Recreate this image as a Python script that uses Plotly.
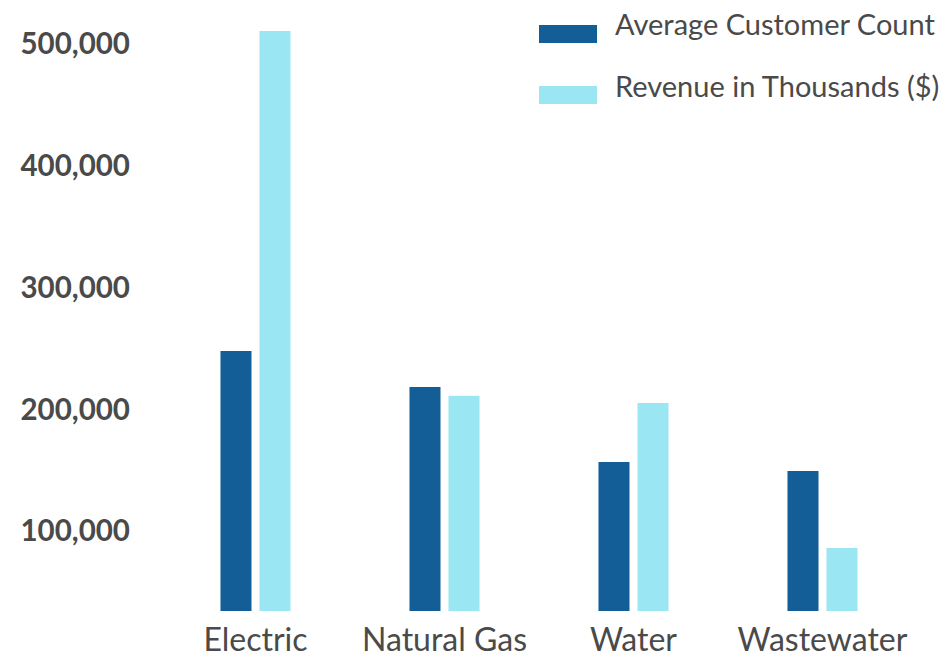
import plotly.graph_objects as go

categories = ["Electric", "Natural Gas", "Water", "Wastewater"]
customer_count = [247800, 218300, 156800, 149400]
revenue_thousands = [510300, 211000, 205200, 86200]
series_names = ["Average Customer Count", "Revenue in Thousands ($)"]
y_ticks = [100000, 200000, 300000, 400000, 500000]
y_tick_labels = ["100,000", "200,000", "300,000", "400,000", "500,000"]

DARK = "#135E96"
LIGHT = "#9AE6F2"
TEXT = "#4A4A4A"
FONT = "Lato"

# the page body adds an 8px offset, so layout pixels are shifted by -8
OFF = 8
W, H = 951, 658
ML, MR, MT, MB = 161 - OFF, 34 + OFF, 20 - OFF, 47 + OFF
PW, PH = W - ML - MR, H - MT - MB


def px(x):
    return (x - OFF - ML) / PW


def py(y):
    return (H - MB - (y - OFF)) / PH


fig = go.Figure()
fig.add_trace(go.Bar(x=categories, y=customer_count, name=series_names[0],
                     marker=dict(color=DARK, line=dict(width=0))))
fig.add_trace(go.Bar(x=categories, y=revenue_thousands, name=series_names[1],
                     marker=dict(color=LIGHT, line=dict(width=0))))

# custom legend
legend_rows = [(series_names[0], DARK, 25, 43, 24), (series_names[1], LIGHT, 86, 104, 85)]
shapes = []
annotations = []
for name, col, y0, y1, ty in legend_rows:
    shapes.append(dict(type="rect", xref="paper", yref="paper",
                       x0=px(539), x1=px(597), y0=py(y1), y1=py(y0),
                       fillcolor=col, line=dict(width=0)))
    annotations.append(dict(text=name, xref="paper", yref="paper",
                            x=px(613), y=py(ty), xanchor="left", yanchor="middle",
                            showarrow=False,
                            font=dict(family=FONT, size=29, color=TEXT)))

fig.update_layout(
    width=W, height=H,
    margin=dict(l=ML, r=MR, t=MT, b=MB, autoexpand=False),
    paper_bgcolor="white", plot_bgcolor="white",
    barmode="group", bargap=0.587, bargroupgap=0.205,
    showlegend=False,
    shapes=shapes, annotations=annotations,
    font=dict(family=FONT, color=TEXT),
)
fig.update_xaxes(showgrid=False, showline=False, zeroline=False, ticks="",
                 automargin=False,
                 tickfont=dict(family=FONT, size=32, color=TEXT),
                 ticklabelstandoff=7)
fig.update_yaxes(range=[34500, 519300], showgrid=False, showline=False, zeroline=False,
                 automargin=False,
                 ticks="", tickvals=y_ticks, ticktext=y_tick_labels,
                 tickfont=dict(family=FONT, size=29.5, color=TEXT, weight="bold"),
                 ticklabelstandoff=30)

fig.write_html("out.html")
